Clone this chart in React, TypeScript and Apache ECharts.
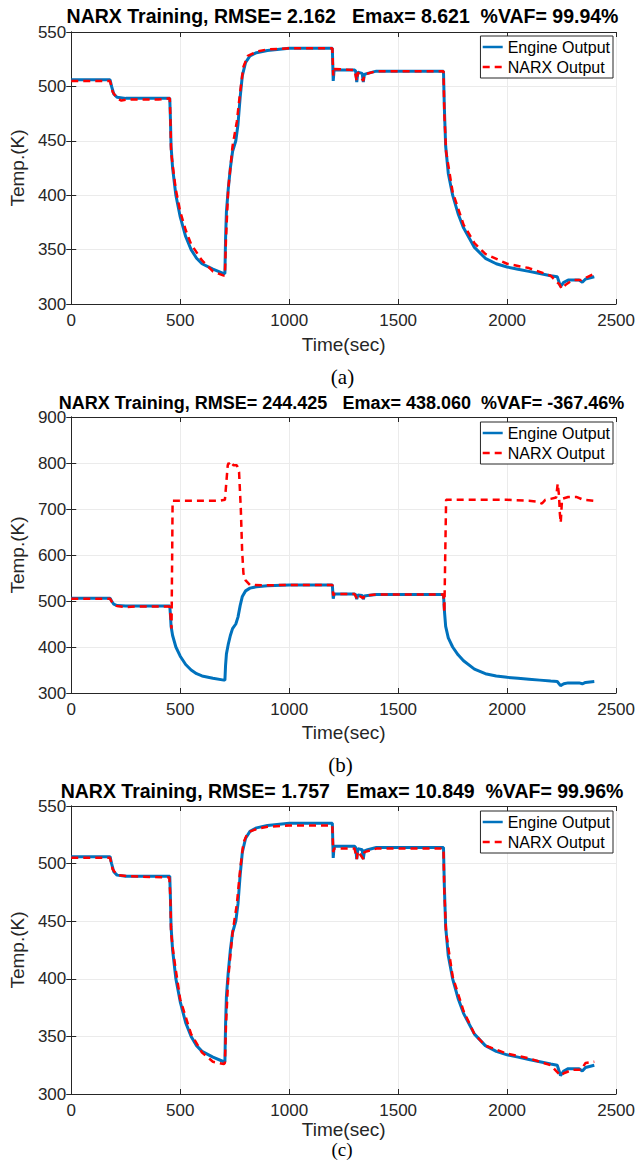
import React, { useEffect, useRef } from "react";
import * as echarts from "echarts";

// ---------- data ----------
const TITLES = [
  "NARX Training, RMSE= 2.162   Emax= 8.621  %VAF= 99.94%",
  "NARX Training, RMSE= 244.425   Emax= 438.060  %VAF= -367.46%",
  "NARX Training, RMSE= 1.757   Emax= 10.849  %VAF= 99.96%",
];
const PANEL_LABELS = ["(a)", "(b)", "(c)"];
const X_TICKS = [0, 500, 1000, 1500, 2000, 2500];
const Y_RANGES = [
  [300, 550, 50],
  [300, 900, 100],
  [300, 550, 50],
];

const ENGINE_T = [0, 178, 185, 195, 210, 250, 300, 400, 452, 455, 458, 465, 480, 500, 525, 550, 575, 600, 650, 700, 705, 708, 712, 720, 730, 740, 755, 765, 775, 785, 800, 820, 850, 900, 1000, 1100, 1198, 1200, 1202, 1206, 1250, 1300, 1305, 1310, 1315, 1335, 1340, 1345, 1360, 1400, 1500, 1708, 1712, 1718, 1730, 1750, 1775, 1800, 1850, 1900, 1950, 2000, 2050, 2100, 2150, 2200, 2230, 2245, 2260, 2280, 2330, 2345, 2360, 2400];
const ENGINE_V = [506, 506, 500, 493, 490, 489, 489, 489, 489, 470, 445, 425, 400, 380, 362, 350, 342, 337, 332, 328, 328, 360, 385, 405, 425, 440, 450, 465, 490, 510, 522, 528, 531, 533, 535, 535, 535, 520, 505, 515, 515, 515, 514, 504, 513, 512, 504, 511, 512, 514, 514, 514, 480, 445, 420, 400, 383, 370, 352, 342, 337, 334, 332, 330, 328, 326, 325, 316, 320, 322, 322, 320, 323, 325];

const NARX_A_T = [0, 178, 190, 210, 230, 260, 300, 400, 452, 455, 458, 470, 480, 500, 525, 550, 600, 650, 700, 705, 710, 720, 740, 760, 775, 790, 810, 850, 900, 1000, 1198, 1202, 1206, 1300, 1310, 1315, 1340, 1345, 1400, 1708, 1712, 1720, 1750, 1800, 1850, 1900, 2000, 2100, 2200, 2240, 2250, 2270, 2300, 2340, 2370, 2400];
const NARX_A_V = [505, 505, 495, 489, 487, 488, 488, 488, 489, 470, 440, 420, 405, 385, 368, 355, 340, 330, 326, 327, 360, 405, 445, 468, 495, 518, 528, 532, 534, 535, 535, 510, 516, 515, 505, 513, 505, 511, 514, 514, 475, 440, 403, 373, 356, 346, 337, 333, 326, 318, 314, 318, 322, 322, 325, 328];

const NARX_B_T = [0, 178, 190, 210, 250, 300, 450, 455, 460, 463, 465, 500, 600, 680, 705, 712, 718, 722, 730, 735, 745, 760, 770, 778, 784, 790, 800, 820, 900, 1000, 1198, 1202, 1206, 1300, 1310, 1315, 1340, 1345, 1400, 1708, 1712, 1716, 1720, 1800, 2000, 2100, 2140, 2160, 2175, 2200, 2225, 2232, 2238, 2242, 2246, 2252, 2280, 2320, 2350, 2400];
const NARX_B_V = [505, 505, 495, 489, 487, 488, 488, 470, 440, 600, 718, 718, 718, 718, 720, 760, 795, 800, 795, 800, 795, 795, 780, 700, 610, 560, 545, 535, 534, 535, 535, 512, 515, 515, 506, 513, 506, 512, 514, 514, 475, 600, 720, 720, 720, 718, 716, 712, 720, 722, 725, 755, 730, 690, 670, 722, 726, 726, 720, 718];

const NARX_C_T = [0, 178, 190, 210, 260, 450, 455, 458, 470, 500, 550, 600, 650, 700, 705, 710, 720, 740, 760, 775, 790, 810, 850, 900, 1000, 1198, 1202, 1206, 1300, 1310, 1315, 1340, 1345, 1400, 1708, 1712, 1720, 1750, 1800, 1850, 1900, 2000, 2100, 2200, 2245, 2260, 2300, 2340, 2360, 2400];
const NARX_C_V = [505, 505, 495, 490, 489, 488, 470, 440, 420, 382, 352, 336, 328, 326, 327, 360, 400, 440, 465, 495, 518, 527, 530, 532, 533, 533, 510, 513, 513, 504, 511, 504, 510, 513, 513, 475, 440, 402, 372, 352, 342, 335, 331, 325, 316, 318, 321, 321, 327, 328];

// ---------- layout ----------
const W = 638;
const H = 1163;
const GRIDS = [
  { left: 67, top: 32, right: 20, height: 272 },
  { left: 63, top: 417, right: 20, height: 276 },
  { left: 66, top: 806, right: 20, height: 288 },
];
const NAME_GAP = [31, 30, 22];
const TITLE_Y = [16, 403, 791];
const TITLE_SIZE = [19.5, 18, 19.5];
const LABEL_Y = [377, 765, 1149];
const LABEL_SIZE = [21, 21, 19];
const LEGEND_TOP = [36, 422, 811];

const FONT = "'Liberation Sans', Arial, Helvetica, sans-serif";
const BLUE = "#0072BD";
const RED = "#FF0000";
const AX = "#262626";

const zip = (t: number[], v: number[]) => t.map((x, i) => [x, v[i]]);

export default function App() {
  const ref = useRef<HTMLDivElement>(null);
  useEffect(() => {
    if (!ref.current) return;
    const chart = echarts.init(ref.current, undefined, { renderer: "svg" });
    const narx = [zip(NARX_A_T, NARX_A_V), zip(NARX_B_T, NARX_B_V), zip(NARX_C_T, NARX_C_V)];
    const engine = zip(ENGINE_T, ENGINE_V);

    const xAxis: any[] = [];
    const yAxis: any[] = [];
    const series: any[] = [];
    const legend: any[] = [];
    const graphic: any[] = [];
    const fmt = (v: number) => String(v);

    GRIDS.forEach((g, i) => {
      const [ymin, ymax, yint] = Y_RANGES[i];
      xAxis.push({
        gridIndex: i, type: "value", min: X_TICKS[0], max: X_TICKS[X_TICKS.length - 1], interval: 500,
        position: "bottom",
        axisLine: { lineStyle: { color: AX, width: 1 } },
        axisTick: { inside: true, length: 5, lineStyle: { color: AX } },
        axisLabel: { color: AX, fontSize: 17, fontFamily: FONT, margin: 8, formatter: fmt },
        splitLine: { show: true, lineStyle: { color: "#ebebeb", width: 1 } },
        name: "Time(sec)", nameLocation: "middle", nameGap: NAME_GAP[i],
        nameTextStyle: { color: AX, fontSize: 19, fontFamily: FONT },
      });
      xAxis.push({
        gridIndex: i, type: "value", min: X_TICKS[0], max: X_TICKS[X_TICKS.length - 1], interval: 500,
        position: "top",
        axisLine: { show: true, lineStyle: { color: AX, width: 1 } },
        axisTick: { show: true, inside: true, length: 5, lineStyle: { color: AX } },
        axisLabel: { show: false }, splitLine: { show: false },
      });
      yAxis.push({
        gridIndex: i, type: "value", min: ymin, max: ymax, interval: yint,
        position: "left",
        axisLine: { show: true, lineStyle: { color: AX, width: 1 } },
        axisTick: { show: true, inside: true, length: 5, lineStyle: { color: AX } },
        axisLabel: { color: AX, fontSize: 17, fontFamily: FONT, margin: 5, formatter: fmt },
        splitLine: { show: true, lineStyle: { color: "#ebebeb", width: 1 } },
        name: "Temp.(K)", nameLocation: "middle", nameGap: 37, nameRotate: 90,
        nameTextStyle: { color: AX, fontSize: 19, fontFamily: FONT },
      });
      yAxis.push({
        gridIndex: i, type: "value", min: ymin, max: ymax, interval: yint,
        position: "right",
        axisLine: { show: true, lineStyle: { color: AX, width: 1 } },
        axisTick: { show: true, inside: true, length: 5, lineStyle: { color: AX } },
        axisLabel: { show: false }, splitLine: { show: false },
      });
      series.push({
        name: "Engine Output", type: "line", xAxisIndex: i * 2, yAxisIndex: i * 2,
        data: engine, symbol: "none", showSymbol: false, z: 2,
        lineStyle: { color: BLUE, width: 3 }, itemStyle: { color: BLUE },
      });
      series.push({
        name: "NARX Output", type: "line", xAxisIndex: i * 2, yAxisIndex: i * 2,
        data: narx[i], symbol: "none", showSymbol: false, z: 3,
        lineStyle: { color: RED, width: 2.5, type: [7, 5] }, itemStyle: { color: RED },
      });
      legend.push({
        data: ["Engine Output", "NARX Output"], orient: "vertical",
        right: 25, top: LEGEND_TOP[i], itemWidth: 20, itemHeight: 10, itemGap: 2,
        padding: [2, 3, 2, 1], borderColor: AX, borderWidth: 1, backgroundColor: "#fff",
        selectedMode: false, z: 10,
        itemStyle: { opacity: 0 },
        lineStyle: { type: "inherit", width: 2.5 },
        textStyle: { fontSize: 16, fontFamily: FONT, color: "#000", lineHeight: 18 },
      });
      const cx = g.left + (W - g.left - g.right) / 2;
      graphic.push({
        type: "text", x: cx + (i === 1 ? 1 : 0), y: TITLE_Y[i],
        style: { text: TITLES[i], fill: "#000", font: `bold ${TITLE_SIZE[i]}px ${FONT}`, align: "center", verticalAlign: "middle" },
      });
      graphic.push({
        type: "text", x: cx, y: LABEL_Y[i],
        style: { text: PANEL_LABELS[i], fill: "#000", font: `${LABEL_SIZE[i]}px 'Liberation Serif', 'Times New Roman', serif`, align: "center", verticalAlign: "middle" },
      });
    });

    chart.setOption({
      animation: false,
      backgroundColor: "#fff",
      grid: GRIDS.map((g) => ({ ...g, containLabel: false })),
      xAxis, yAxis, series, legend, graphic,
    });
    return () => chart.dispose();
  }, []);
  return <div ref={ref} style={{ position: "absolute", left: 0, top: 0, width: W, height: H }} />;
}
